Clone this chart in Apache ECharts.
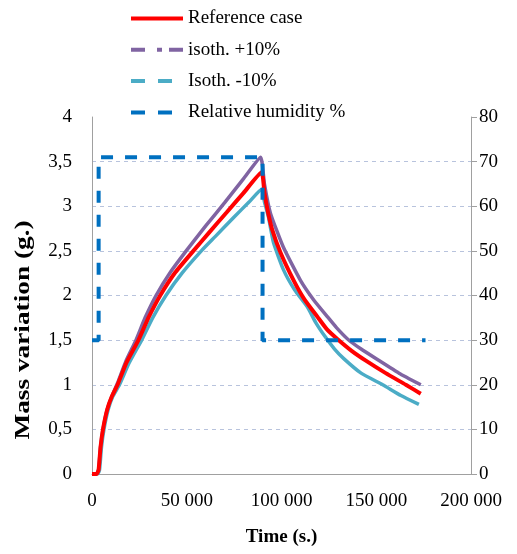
<!DOCTYPE html>
<html>
<head>
<meta charset="utf-8">
<script src="https://cdn.jsdelivr.net/npm/echarts@6/dist/echarts.min.js"></script>
<style>
html,body{margin:0;padding:0;background:#fff;}
#chart{width:517px;height:554px;}
</style>
</head>
<body>
<div id="chart"></div>
<script>
// ---- Data ----
var seriesNames = ['Reference case', 'isoth. +10%', 'Isoth. -10%', 'Relative humidity %'];

var refTime = [0, 2500, 3500, 4500, 5800, 8000, 10500, 13500, 18000, 24500, 30000, 36000, 44000, 53500, 62000, 71000, 80000, 89500,
  91000, 93000, 95200, 99500, 106400, 112000, 119000, 124000, 129600, 137000, 144500, 155000, 165600, 173500];
var refMass = [0, 0, 0.05, 0.3, 0.5, 0.72, 0.87, 1.0, 1.24, 1.5, 1.76, 2.0, 2.26, 2.5, 2.71, 2.93, 3.15, 3.38,
  3.15, 2.92, 2.73, 2.48, 2.17, 1.96, 1.76, 1.62, 1.51, 1.38, 1.27, 1.13, 1.0, 0.9];

var plusTime = [0, 2500, 3500, 4500, 5800, 8000, 10500, 13500, 18000, 23200, 28000, 33800, 41000, 49700, 60000, 70000, 80000, 89000,
  91000, 94200, 101000, 110000, 117000, 124300, 129000, 135000, 142000, 150800, 162000, 173500];
var plusMass = [0, 0, 0.05, 0.3, 0.5, 0.72, 0.87, 1.02, 1.27, 1.5, 1.75, 2.0, 2.25, 2.5, 2.78, 3.04, 3.31, 3.55,
  3.25, 2.92, 2.54, 2.17, 1.95, 1.76, 1.64, 1.51, 1.4, 1.28, 1.13, 1.0];

var minusTime = [0, 3000, 4000, 5000, 6300, 8500, 11000, 14500, 19500, 26200, 32000, 39000, 47500, 57700, 65000, 75000, 83000, 89500,
  91000, 93100, 95800, 101000, 107000, 113700, 118000, 123000, 128000, 133000, 142000, 153400, 163000, 172500];
var minusMass = [0, 0, 0.05, 0.3, 0.5, 0.72, 0.87, 1.0, 1.24, 1.5, 1.75, 2.0, 2.25, 2.5, 2.66, 2.88, 3.05, 3.19,
  3.05, 2.88, 2.59, 2.29, 2.06, 1.87, 1.70, 1.54, 1.40, 1.29, 1.13, 1.0, 0.88, 0.78];

var rhTime = [0, 3500, 3500, 90000, 90000, 176000];
var rhValue = [30, 30, 71, 71, 30, 30];

// axis settings
var xTicks = {min: 0, max: 200000, interval: 50000};
var yLeftTicks = {min: 0, max: 4, interval: 0.5};
var yRightTicks = {min: 0, max: 80, interval: 10};

function pairs(t, v) { return t.map(function (x, i) { return [x, v[i]]; }); }

var FONT = 'Liberation Serif, Times New Roman, serif';
var RED = '#ff0000', PURPLE = '#8064a2', CYAN = '#4bacc6', BLUE = '#0070c0';
var HIDE = {opacity: 0, borderWidth: 0};

var chart = echarts.init(document.getElementById('chart'), null, {renderer: 'canvas'});
chart.setOption({
  animation: false,
  backgroundColor: '#ffffff',
  textStyle: {fontFamily: FONT},
  grid: {left: 92, right: 46, top: 117, bottom: 80, containLabel: false},
  legend: {
    orient: 'vertical',
    left: 129,
    top: 9,
    padding: 0,
    itemWidth: 52,
    itemHeight: 14,
    itemGap: 12.3,
    textStyle: {fontFamily: FONT, fontSize: 19, color: '#000', lineHeight: 19},
    data: [
      {name: seriesNames[0], itemStyle: HIDE, lineStyle: {width: 4, type: 'solid', color: RED, opacity: 1}},
      {name: seriesNames[1], itemStyle: HIDE, lineStyle: {width: 4, type: [14, 12, 5, 7], color: PURPLE, opacity: 1}},
      {name: seriesNames[2], itemStyle: HIDE, lineStyle: {width: 4, type: [14, 13], color: CYAN, opacity: 1}},
      {name: seriesNames[3], itemStyle: HIDE, lineStyle: {width: 4, type: [14, 13], color: BLUE, opacity: 1}}
    ]
  },
  xAxis: {
    type: 'value',
    min: xTicks.min, max: xTicks.max, interval: xTicks.interval,
    name: 'Time (s.)',
    nameLocation: 'middle',
    nameGap: 54,
    nameTextStyle: {fontFamily: FONT, fontSize: 19, fontWeight: 'bold', color: '#000'},
    axisLine: {show: true, lineStyle: {color: '#a0a0a0', width: 1}},
    axisTick: {show: false},
    splitLine: {show: false},
    axisLabel: {
      fontFamily: FONT, fontSize: 19, color: '#000', margin: 18,
      formatter: function (v) { return String(v).replace(/\B(?=(\d{3})+(?!\d))/g, ' '); }
    }
  },
  yAxis: [
    {
      type: 'value', position: 'left',
      min: yLeftTicks.min, max: yLeftTicks.max, interval: yLeftTicks.interval,
      axisLine: {show: true, lineStyle: {color: '#a0a0a0', width: 1}},
      axisTick: {show: false},
      splitLine: {show: true, showMaxLine: false, showMinLine: false, lineStyle: {color: '#b8c3dd', type: [4, 4], width: 1}},
      axisLabel: {
        fontFamily: FONT, fontSize: 19, color: '#000', margin: 20,
        formatter: function (v) { return String(v).replace('.', ','); }
      }
    },
    {
      type: 'value', position: 'right',
      min: yRightTicks.min, max: yRightTicks.max, interval: yRightTicks.interval,
      axisLine: {show: true, lineStyle: {color: '#a0a0a0', width: 1}},
      axisTick: {show: true, length: 6, inside: false, lineStyle: {color: '#a0a0a0'}},
      splitLine: {show: false},
      axisLabel: {fontFamily: FONT, fontSize: 19, color: '#000', margin: 8}
    }
  ],
  graphic: [
    {
      type: 'text',
      x: 24, y: 330,
      rotation: Math.PI / 2,
      scaleX: 1.3,
      scaleY: 0.95,
      style: {
        text: 'Mass variation (g.)',
        fontFamily: FONT, fontSize: 21, fontWeight: 'bold', fill: '#000',
        align: 'center', verticalAlign: 'middle'
      }
    }
  ],
  series: [
    {
      name: seriesNames[0], type: 'line', yAxisIndex: 0, symbol: 'none', showSymbol: false,
      smooth: 0.15,
      data: pairs(refTime, refMass), z: 3,
      lineStyle: {color: RED, width: 4}, itemStyle: {color: RED}
    },
    {
      name: seriesNames[1], type: 'line', yAxisIndex: 0, symbol: 'none', showSymbol: false,
      smooth: 0.15,
      data: pairs(plusTime, plusMass), z: 2,
      lineStyle: {color: PURPLE, width: 3.5}, itemStyle: {color: PURPLE}
    },
    {
      name: seriesNames[2], type: 'line', yAxisIndex: 0, symbol: 'none', showSymbol: false,
      smooth: 0.15,
      data: pairs(minusTime, minusMass), z: 2,
      lineStyle: {color: CYAN, width: 3.5}, itemStyle: {color: CYAN}
    },
    {
      name: seriesNames[3], type: 'line', yAxisIndex: 1, symbol: 'none', showSymbol: false,
      data: pairs(rhTime, rhValue), z: 4,
      lineStyle: {color: BLUE, width: 4, type: [12, 12]}, itemStyle: {color: BLUE}
    }
  ]
});
</script>
</body>
</html>
